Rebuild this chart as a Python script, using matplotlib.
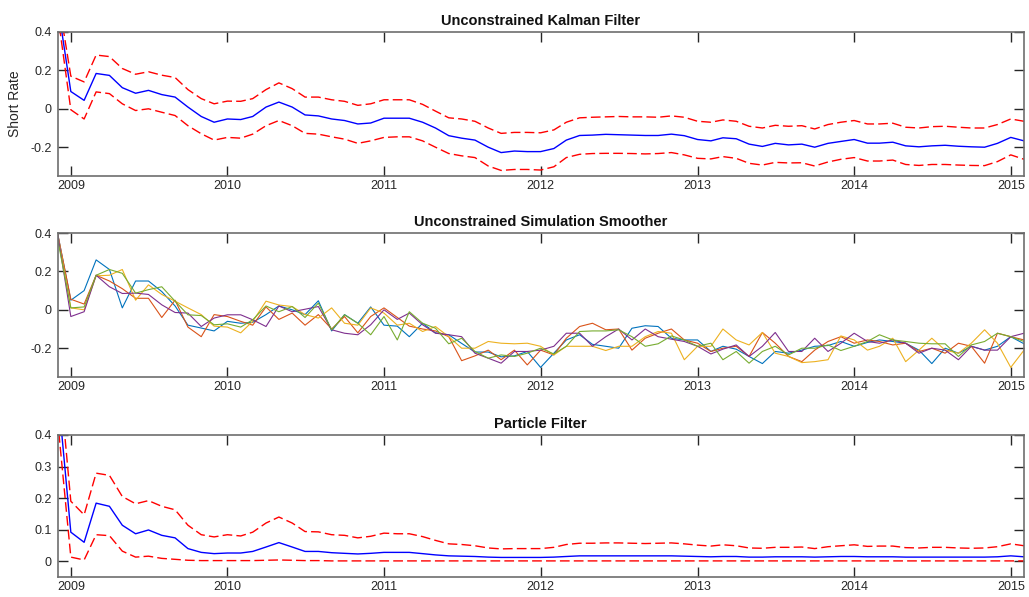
import matplotlib
matplotlib.use("Agg")
import matplotlib.pyplot as plt
import matplotlib.dates as mdates
from matplotlib.ticker import FuncFormatter
import pandas as pd

plt.rcParams['font.family'] = ['Liberation Sans', 'DejaVu Sans']

dates = pd.date_range('2008-12-01', periods=75, freq='MS')

kf_mean = [0.55, 0.09, 0.044, 0.184, 0.174, 0.11, 0.081, 0.096, 0.074, 0.061,
           0.009, -0.04, -0.07, -0.053, -0.056, -0.04, 0.009, 0.035, 0.009, -0.032,
           -0.037, -0.053, -0.061, -0.079, -0.074, -0.049, -0.049, -0.049, -0.07, -0.10,
           -0.14, -0.153, -0.163, -0.2, -0.228, -0.22, -0.223, -0.223, -0.207, -0.163,
           -0.139, -0.137, -0.133, -0.135, -0.137, -0.139, -0.139, -0.132, -0.14, -0.16,
           -0.167, -0.151, -0.156, -0.184, -0.196, -0.18, -0.188, -0.184, -0.2, -0.18,
           -0.17, -0.16, -0.179, -0.179, -0.174, -0.193, -0.198, -0.193, -0.19, -0.195,
           -0.198, -0.2, -0.18, -0.149, -0.167]
kf_upper = [0.6, 0.17, 0.14, 0.28, 0.272, 0.21, 0.18, 0.193, 0.175, 0.163,
            0.10, 0.053, 0.026, 0.04, 0.039, 0.053, 0.10, 0.135, 0.105, 0.061,
            0.061, 0.047, 0.039, 0.018, 0.026, 0.047, 0.047, 0.047, 0.023, -0.012,
            -0.047, -0.053, -0.065, -0.10, -0.128, -0.123, -0.123, -0.125, -0.11, -0.07,
            -0.047, -0.044, -0.042, -0.04, -0.042, -0.042, -0.044, -0.037, -0.044, -0.065,
            -0.07, -0.058, -0.065, -0.091, -0.1, -0.086, -0.091, -0.088, -0.105, -0.082,
            -0.07, -0.061, -0.079, -0.079, -0.075, -0.096, -0.1, -0.093, -0.091, -0.096,
            -0.1, -0.10, -0.082, -0.053, -0.065]
kf_lower = [0.5, -0.005, -0.053, 0.088, 0.079, 0.026, -0.009, 0.0, -0.018, -0.035,
            -0.088, -0.13, -0.163, -0.149, -0.153, -0.132, -0.088, -0.061, -0.088, -0.128,
            -0.132, -0.146, -0.158, -0.18, -0.167, -0.149, -0.146, -0.146, -0.167, -0.2,
            -0.233, -0.245, -0.254, -0.298, -0.321, -0.316, -0.316, -0.319, -0.302, -0.254,
            -0.237, -0.233, -0.232, -0.232, -0.233, -0.235, -0.233, -0.228, -0.24, -0.258,
            -0.261, -0.249, -0.258, -0.284, -0.293, -0.279, -0.282, -0.281, -0.298, -0.277,
            -0.263, -0.254, -0.272, -0.272, -0.267, -0.29, -0.295, -0.29, -0.29, -0.293,
            -0.295, -0.296, -0.275, -0.24, -0.263]

ss_blue = [0.40, 0.05, 0.10, 0.26, 0.21, 0.01, 0.15, 0.15, 0.095, 0.02,
           -0.08, -0.095, -0.11, -0.06, -0.07, -0.065, -0.025, 0.02, 0.0, -0.025,
           0.047, -0.11, -0.025, -0.07, 0.015, -0.08, -0.085, -0.14, -0.07, -0.12,
           -0.13, -0.175, -0.22, -0.22, -0.245, -0.24, -0.217, -0.30, -0.226, -0.157,
           -0.13, -0.18, -0.19, -0.2, -0.096, -0.083, -0.087, -0.148, -0.157, -0.157,
           -0.217, -0.19, -0.205, -0.243, -0.28, -0.217, -0.226, -0.21, -0.19, -0.186,
           -0.165, -0.19, -0.17, -0.157, -0.165, -0.174, -0.21, -0.28, -0.2, -0.226,
           -0.19, -0.21, -0.19, -0.14, -0.177]
ss_orange = [0.40, 0.055, 0.03, 0.18, 0.15, 0.11, 0.06, 0.06, -0.04, 0.05,
             -0.09, -0.14, -0.025, -0.035, -0.06, -0.08, 0.015, -0.05, -0.017, -0.08,
             -0.025, -0.10, -0.035, -0.12, -0.035, 0.01, -0.04, -0.085, -0.10, -0.11,
             -0.14, -0.265, -0.24, -0.21, -0.26, -0.21, -0.287, -0.21, -0.235, -0.148,
             -0.087, -0.07, -0.104, -0.10, -0.21, -0.148, -0.122, -0.10, -0.157, -0.174,
             -0.217, -0.2, -0.19, -0.243, -0.118, -0.174, -0.243, -0.27, -0.21, -0.165,
             -0.14, -0.174, -0.157, -0.165, -0.183, -0.174, -0.217, -0.2, -0.226, -0.174,
             -0.19, -0.278, -0.122, -0.14, -0.157]
ss_yellow = [0.40, 0.01, 0.0, 0.177, 0.18, 0.21, 0.05, 0.13, 0.08, 0.045,
             0.01, -0.025, -0.085, -0.09, -0.12, -0.06, 0.045, 0.025, 0.017, -0.025,
             -0.043, 0.01, -0.07, -0.08, 0.01, -0.017, -0.08, -0.07, -0.113, -0.087,
             -0.14, -0.20, -0.20, -0.165, -0.174, -0.177, -0.174, -0.19, -0.235, -0.19,
             -0.19, -0.19, -0.212, -0.19, -0.19, -0.14, -0.113, -0.122, -0.26, -0.19,
             -0.19, -0.10, -0.157, -0.183, -0.118, -0.226, -0.243, -0.275, -0.27, -0.26,
             -0.136, -0.157, -0.21, -0.19, -0.148, -0.27, -0.21, -0.148, -0.21, -0.226,
             -0.174, -0.104, -0.174, -0.30, -0.21]
ss_purple = [0.40, -0.035, -0.01, 0.18, 0.12, 0.085, 0.087, 0.08, 0.026, -0.014,
             -0.017, -0.087, -0.043, -0.026, -0.026, -0.052, -0.087, 0.02, -0.01, 0.003,
             0.017, -0.104, -0.122, -0.13, -0.078, 0.0, -0.05, -0.017, -0.078, -0.122,
             -0.13, -0.14, -0.226, -0.252, -0.278, -0.217, -0.217, -0.21, -0.19, -0.122,
             -0.122, -0.19, -0.14, -0.10, -0.157, -0.10, -0.14, -0.153, -0.165, -0.19,
             -0.23, -0.205, -0.183, -0.243, -0.19, -0.118, -0.217, -0.217, -0.148, -0.217,
             -0.174, -0.122, -0.165, -0.174, -0.157, -0.174, -0.226, -0.2, -0.21, -0.26,
             -0.19, -0.21, -0.21, -0.14, -0.122]
ss_green = [0.37, 0.01, 0.015, 0.18, 0.21, 0.19, 0.087, 0.105, 0.12, 0.045,
            -0.026, -0.03, -0.078, -0.073, -0.09, -0.052, 0.02, -0.01, 0.017, -0.04,
            0.035, -0.104, -0.026, -0.07, -0.13, -0.035, -0.157, -0.01, -0.07, -0.096,
            -0.177, -0.148, -0.217, -0.252, -0.235, -0.243, -0.226, -0.2, -0.23, -0.19,
            -0.113, -0.11, -0.11, -0.104, -0.14, -0.19, -0.177, -0.136, -0.157, -0.19,
            -0.174, -0.26, -0.217, -0.278, -0.217, -0.19, -0.235, -0.2, -0.2, -0.183,
            -0.212, -0.19, -0.165, -0.13, -0.157, -0.165, -0.174, -0.177, -0.177, -0.243,
            -0.183, -0.165, -0.122, -0.14, -0.165]

pf_mean = [0.55, 0.092, 0.06, 0.184, 0.174, 0.114, 0.087, 0.099, 0.082, 0.074,
           0.04, 0.028, 0.024, 0.026, 0.026, 0.031, 0.045, 0.059, 0.045, 0.031,
           0.031, 0.027, 0.025, 0.023, 0.025, 0.028, 0.028, 0.028, 0.024, 0.02,
           0.017, 0.016, 0.015, 0.013, 0.012, 0.012, 0.012, 0.012, 0.013, 0.015,
           0.017, 0.017, 0.017, 0.017, 0.017, 0.017, 0.017, 0.017, 0.016, 0.015,
           0.014, 0.015, 0.015, 0.013, 0.013, 0.014, 0.014, 0.014, 0.013, 0.014,
           0.015, 0.015, 0.014, 0.014, 0.014, 0.013, 0.013, 0.013, 0.013, 0.013,
           0.013, 0.013, 0.014, 0.017, 0.014]
pf_upper = [0.65, 0.19, 0.147, 0.279, 0.272, 0.205, 0.182, 0.192, 0.174, 0.163,
            0.114, 0.084, 0.077, 0.084, 0.08, 0.092, 0.121, 0.14, 0.121, 0.094,
            0.093, 0.084, 0.082, 0.074, 0.079, 0.089, 0.087, 0.087, 0.078, 0.066,
            0.055, 0.053, 0.049, 0.042, 0.039, 0.04, 0.04, 0.04, 0.044, 0.053,
            0.057, 0.057, 0.058, 0.058, 0.057, 0.056, 0.057, 0.058, 0.055, 0.051,
            0.048, 0.052, 0.049, 0.042, 0.041, 0.044, 0.044, 0.045, 0.04, 0.046,
            0.049, 0.052, 0.047, 0.048, 0.048, 0.043, 0.042, 0.044, 0.044, 0.042,
            0.041, 0.042, 0.046, 0.055, 0.049]
pf_lower = [0.45, 0.013, 0.004, 0.084, 0.081, 0.032, 0.013, 0.016, 0.009, 0.006,
            0.003, 0.002, 0.002, 0.002, 0.002, 0.002, 0.003, 0.004, 0.003, 0.002,
            0.002, 0.001, 0.001, 0.001, 0.001, 0.001, 0.001, 0.001, 0.001, 0.001,
            0.001, 0.001, 0.001, 0.001, 0.001, 0.001, 0.001, 0.001, 0.001, 0.001,
            0.001, 0.001, 0.001, 0.001, 0.001, 0.001, 0.001, 0.001, 0.001, 0.001,
            0.001, 0.001, 0.001, 0.001, 0.001, 0.001, 0.001, 0.001, 0.001, 0.001,
            0.001, 0.001, 0.001, 0.001, 0.001, 0.001, 0.001, 0.001, 0.001, 0.001,
            0.001, 0.001, 0.001, 0.001, 0.001]

titles = ['Unconstrained Kalman Filter', 'Unconstrained Simulation Smoother', 'Particle Filter']
ss_series = [ss_blue, ss_orange, ss_yellow, ss_purple, ss_green]
ss_colors = ['#0072BD', '#D95319', '#EDB120', '#7E2F8E', '#77AC30']

fig = plt.figure(figsize=(10.29, 5.97), dpi=100)
left, width = 0.0559, 0.9393
ax1 = fig.add_axes([left, 0.7052, width, 0.2412])
ax2 = fig.add_axes([left, 0.3685, width, 0.2412])
ax3 = fig.add_axes([left, 0.0335, width, 0.2379])

dash = (7, 3)
ax1.plot(dates, kf_mean, color='#0000FF', lw=1.0)
ax1.plot(dates, kf_upper, color='#FF0000', lw=1.0, dashes=dash)
ax1.plot(dates, kf_lower, color='#FF0000', lw=1.0, dashes=dash)
ax1.set_ylim(-0.35, 0.4)
ax1.set_yticks([-0.2, 0, 0.2, 0.4])
ax1.set_ylabel('Short Rate', fontsize=10, color='#262626', labelpad=6)

for s, c in zip(ss_series, ss_colors):
    ax2.plot(dates, s, color=c, lw=0.8)
ax2.set_ylim(-0.35, 0.4)
ax2.set_yticks([-0.2, 0, 0.2, 0.4])

ax3.plot(dates, pf_mean, color='#0000FF', lw=1.0)
ax3.plot(dates, pf_upper, color='#FF0000', lw=1.0, dashes=dash)
ax3.plot(dates, pf_lower, color='#FF0000', lw=1.0, dashes=dash)
ax3.set_ylim(-0.05, 0.4)
ax3.set_yticks([0, 0.1, 0.2, 0.3, 0.4])

fmt = FuncFormatter(lambda v, p: '%g' % round(v, 3))
for ax, t in zip([ax1, ax2, ax3], titles):
    ax.set_xlim(dates[0], dates[-1])
    ax.xaxis.set_major_locator(mdates.YearLocator())
    ax.xaxis.set_major_formatter(mdates.DateFormatter('%Y'))
    ax.yaxis.set_major_formatter(fmt)
    ax.set_title(t, fontsize=10.5, fontweight='bold', color='#111111', pad=5)
    for sp in ax.spines.values():
        sp.set_color('#6e6e6e')
        sp.set_linewidth(1.2)
    ax.tick_params(direction='in', length=7, width=1.0, color='#262626',
                   labelsize=9, labelcolor='#262626', top=True, right=True)
    ax.tick_params(axis='x', pad=3)
    ax.tick_params(axis='y', pad=4)

fig.savefig('out.png', dpi=100, facecolor='white')
